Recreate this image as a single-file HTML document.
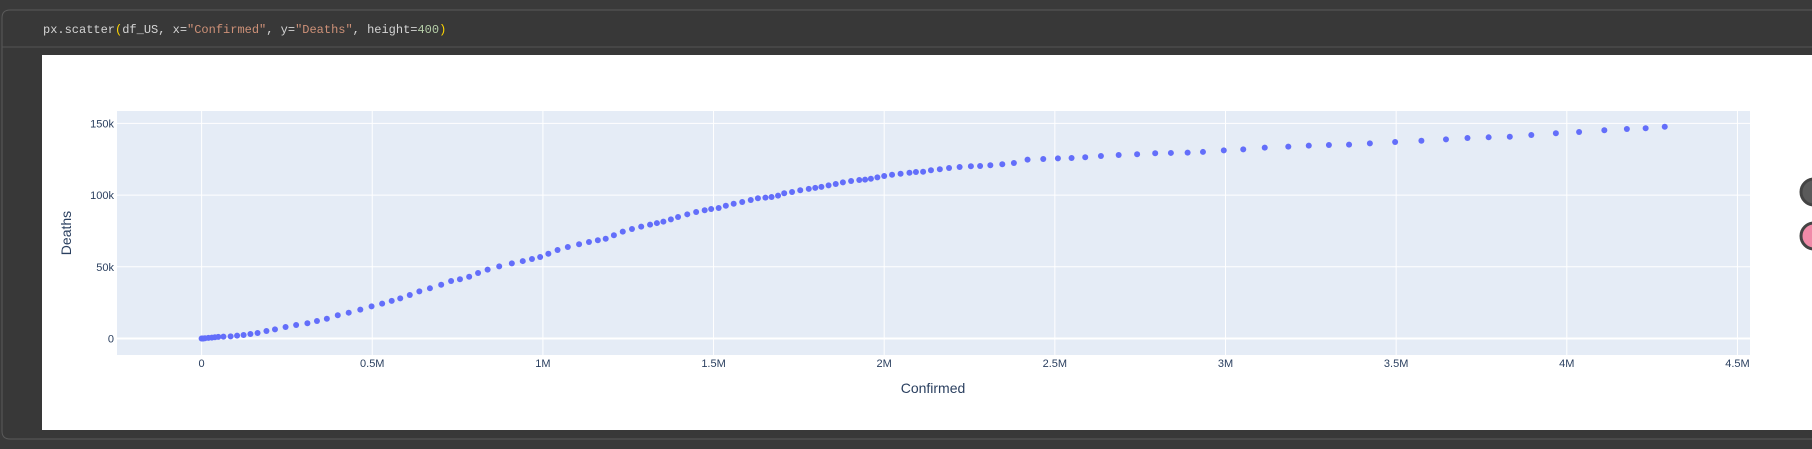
<!DOCTYPE html>
<html><head><meta charset="utf-8">
<style>
html,body{margin:0;padding:0;background:#3a3a3a;width:1812px;height:449px;overflow:hidden}
svg{display:block}
</style></head>
<body>
<svg id="root" width="1812" height="449" xmlns="http://www.w3.org/2000/svg" font-family="Liberation Sans, sans-serif">
  <rect x="0" y="0" width="1812" height="449" fill="#3a3a3a"/>
  <path d="M1812 10 L10 10 Q2 10 2 18 L2 431 Q2 439 10 439 L1812 439" fill="#383838" stroke="#5a5a5a" stroke-width="1"/>
  <line x1="2" y1="47" x2="1812" y2="47" stroke="#555"/>
  <text x="43" y="33" font-family="Liberation Mono, monospace" font-size="12" fill="#d4d4d4">px.scatter<tspan fill="#ffd700">(</tspan>df_US, x=<tspan fill="#ce9178">"Confirmed"</tspan>, y=<tspan fill="#ce9178">"Deaths"</tspan>, height=<tspan fill="#b5cea8">400</tspan><tspan fill="#ffd700">)</tspan></text>
  <rect x="42" y="55" width="1770" height="375" fill="#ffffff"/>
  <rect x="117" y="111" width="1633" height="244" fill="#e5ecf6"/>
  <g id="grid"></g>
  <g id="points"></g>
  <g id="xticks"></g>
  <g id="yticks"></g>
  <text x="933" y="393" text-anchor="middle" font-size="14" fill="#2a3f5f">Confirmed</text>
  <text x="71" y="233" text-anchor="middle" font-size="14" fill="#2a3f5f" transform="rotate(-90 71 233)">Deaths</text>
  <circle cx="1814" cy="192" r="13" fill="#5a5a5a" stroke="#444" stroke-width="3"/>
  <circle cx="1814" cy="236" r="13" fill="#f08aa8" stroke="#444" stroke-width="3"/>
</svg>
<script>
const confirmed=[0,1,3,5,10,20,30,39,49,64,85,104,123,143,164,190,215,246,277,310,338,367,399,431,465,498,529,557,582,610,638,669,702,731,757,784,810,838,872,909,941,968,992,1016,1043,1073,1106,1135,1161,1184,1208,1234,1261,1288,1314,1334,1353,1375,1396,1423,1449,1474,1493,1515,1536,1559,1584,1609,1630,1652,1670,1689,1707,1730,1754,1779,1798,1816,1837,1858,1879,1903,1927,1944,1961,1980,2000,2023,2048,2074,2093,2114,2137,2163,2190,2221,2254,2281,2311,2346,2380,2420,2466,2509,2549,2589,2635,2687,2741,2794,2840,2889,2934,2995,3052,3115,3184,3244,3303,3362,3423,3497,3574,3646,3709,3771,3833,3896,3968,4036,4110,4176,4231,4287];
const deaths=[0,0,0,0,0.2,0.4,0.6,0.9,1.1,1.3,1.5,2.0,2.4,3.1,3.8,5.2,6.4,8.0,9.4,10.6,12.2,13.8,16.2,18.0,20.1,22.4,24.3,26.2,28.0,30.3,32.9,35.0,37.5,40.1,41.3,43.1,45.7,48.0,50.3,52.4,54.0,55.4,56.8,59.1,61.7,63.8,65.7,67.3,68.5,69.6,72.0,74.5,76.4,78.0,79.4,80.5,81.5,83.1,84.7,86.6,88.2,89.4,90.3,91.0,92.6,94.0,95.2,96.6,97.8,98.2,98.7,99.6,101.3,102.2,103.4,104.3,105.0,105.7,106.8,107.7,108.9,109.8,110.5,110.8,111.4,112.4,113.3,114.2,114.9,115.6,116.1,116.3,117.3,118.0,118.9,119.6,120.1,120.3,120.8,121.5,122.4,124.7,125.2,125.6,125.9,126.4,127.3,128.0,128.5,129.2,129.4,129.6,130.1,131.2,131.9,133.1,133.8,134.5,134.9,135.2,136.1,137.0,137.9,138.9,139.8,140.3,140.7,141.9,143.1,144.0,145.2,146.1,146.6,147.7];
const xTickVals=[0,500,1000,1500,2000,2500,3000,3500,4000,4500];
const xTickLabels=["0","0.5M","1M","1.5M","2M","2.5M","3M","3.5M","4M","4.5M"];
const yTickVals=[0,50,100,150];
const yTickLabels=["0","50k","100k","150k"];
const NS="http://www.w3.org/2000/svg";
const X=v=>201.6+v*0.3413;
const Y=v=>338.5-v*1.434;
function mk(tag,attrs,parent){const e=document.createElementNS(NS,tag);for(const k in attrs)e.setAttribute(k,attrs[k]);parent.appendChild(e);return e;}
const grid=document.getElementById('grid');
xTickVals.forEach((v,i)=>{
  const l=mk('line',{x1:X(v),x2:X(v),y1:111,y2:355,stroke:'#fff','stroke-width':1},grid);
  
  
  const t=mk('text',{x:X(v),y:367,'text-anchor':'middle','font-size':11,fill:'#2a3f5f'},document.getElementById('xticks'));
  t.textContent=xTickLabels[i];
  
  
});
yTickVals.forEach((v,i)=>{
  const l=mk('line',{x1:117,x2:1750,y1:Y(v),y2:Y(v),stroke:'#fff','stroke-width':v===0?2:1},grid);
  
  
  const t=mk('text',{x:114,y:Y(v)+4,'text-anchor':'end','font-size':11,fill:'#2a3f5f'},document.getElementById('yticks'));
  t.textContent=yTickLabels[i];
  
  
});
const pts=document.getElementById('points');
confirmed.forEach((c,i)=>{
  const p=mk('circle',{cx:X(c),cy:Y(deaths[i]),r:3,fill:'#636efa'},pts);
  
  
});
</script>
</body></html>
